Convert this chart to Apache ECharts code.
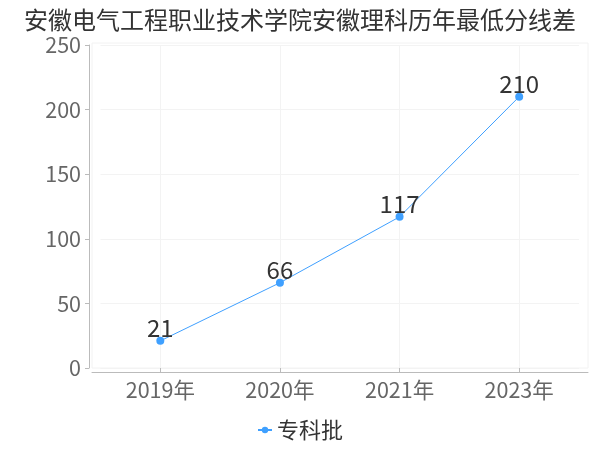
<!DOCTYPE html>
<html><head><meta charset="utf-8">
<script src="https://cdn.jsdelivr.net/npm/echarts@6/dist/echarts.min.js"></script>
<style>html,body{margin:0;padding:0;background:#fff}#c{width:600px;height:450px}</style>
</head><body><div id="c"></div>
<script>
const titleText = '安徽电气工程职业技术学院安徽理科历年最低分线差';
const categories = ['2019年', '2020年', '2021年', '2023年'];
const seriesName = '专科批';
const values = [21, 66, 117, 210];
const yTicks = { min: 0, max: 250, interval: 50 };

const FONT = '"Noto Sans CJK SC", sans-serif';
const chart = echarts.init(document.getElementById('c'), null, { renderer: 'canvas' });
chart.setOption({
  backgroundColor: '#fff',
  textStyle: { fontFamily: FONT },
  title: {
    text: titleText, left: 'center', top: 3,
    textStyle: { fontSize: 24, fontWeight: 'normal', color: '#333', fontFamily: FONT }
  },
  legend: {
    bottom: 4, left: 'center', itemWidth: 14, itemHeight: 8, itemGap: 10,
    textStyle: { fontSize: 22, color: '#333', fontFamily: FONT },
    data: [seriesName]
  },
  grid: [
    { left: 100.5, right: 21, top: 45, bottom: 82 },
    { left: 92, right: 12, top: 43, bottom: 82, show: true, borderColor: '#f2f2f2', borderWidth: 1, backgroundColor: 'transparent' }
  ],
  xAxis: [
    {
      type: 'category', data: categories, gridIndex: 0,
      axisLine: { show: false },
      axisTick: { show: true, alignWithLabel: true, length: 4, lineStyle: { color: '#bbb' } },
      splitLine: { show: true, alignWithLabel: true, lineStyle: { color: '#f3f3f3' } },
      axisLabel: { fontSize: 21.5, color: '#666', margin: 11, fontFamily: FONT }
    },
    {
      type: 'value', gridIndex: 1, min: 0, max: 1,
      axisLine: { show: true, onZero: false, lineStyle: { color: '#bbb' } },
      offset: 4,
      axisTick: { show: false }, axisLabel: { show: false }, splitLine: { show: false }
    }
  ],
  yAxis: [
    {
      type: 'value', gridIndex: 0, min: yTicks.min, max: yTicks.max, interval: yTicks.interval,
      offset: 11.5,
      axisLine: { show: true, lineStyle: { color: '#bbb' } },
      axisTick: { show: true, length: 4, lineStyle: { color: '#bbb' } },
      splitLine: { show: true, lineStyle: { color: '#f3f3f3' } },
      axisLabel: { fontSize: 21.5, color: '#666', margin: 8, fontFamily: FONT }
    },
    {
      type: 'value', gridIndex: 1, show: false, min: 0, max: 1, splitLine: { show: false }
    }
  ],
  series: [{
    name: seriesName, type: 'line', data: values, xAxisIndex: 0, yAxisIndex: 0,
    symbol: 'circle', symbolSize: 8,
    itemStyle: { color: '#3fa0ff' },
    lineStyle: { color: '#3fa0ff', width: 1 },
    label: { show: true, position: 'top', distance: 0, offset: [0, 3], fontSize: 24, color: '#333', fontFamily: FONT }
  }],
  animation: false
});
</script></body></html>
